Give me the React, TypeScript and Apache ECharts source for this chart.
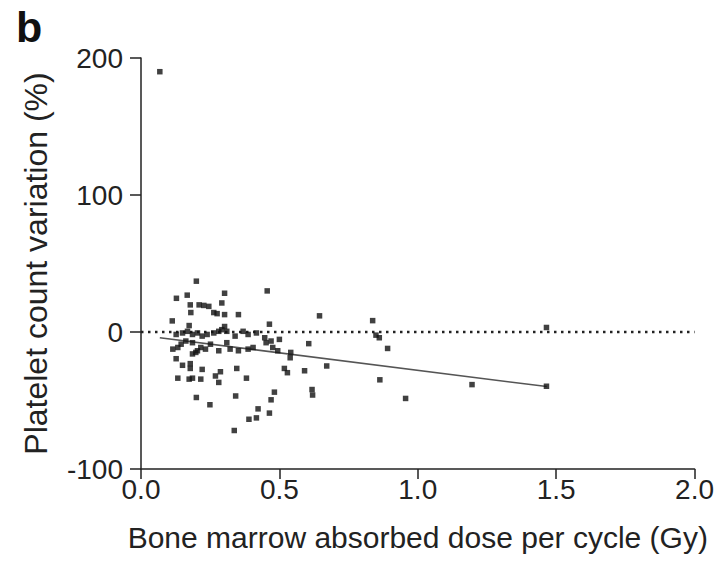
import React, { useEffect, useRef } from "react";
import * as echarts from "echarts";

const doseX: number[] = [
  0.068,
  0.200, 0.128, 0.167, 0.302, 0.456, 0.178, 0.210, 0.227, 0.245, 0.292,
  0.180, 0.263, 0.275, 0.302, 0.352, 0.113, 0.174, 0.302, 0.464,
  0.127, 0.150, 0.168, 0.186, 0.204, 0.221, 0.239, 0.263, 0.281, 0.292,
  0.310, 0.340, 0.369, 0.387, 0.417, 0.447, 0.470, 0.500,
  0.115, 0.133, 0.145, 0.162, 0.186, 0.204, 0.216, 0.233, 0.251, 0.281,
  0.310, 0.322, 0.352, 0.387, 0.405, 0.452, 0.476, 0.494, 0.186, 0.198,
  0.127, 0.150, 0.178, 0.178, 0.221, 0.518, 0.346, 0.287, 0.133, 0.174,
  0.186, 0.216, 0.269, 0.281, 0.381, 0.482, 0.470, 0.200, 0.342, 0.249,
  0.423, 0.417, 0.390, 0.464, 0.337,
  0.645, 0.837, 0.529, 0.541, 0.539, 0.606, 0.849, 0.861, 0.891, 0.671,
  0.591, 0.863, 0.618, 0.620, 0.956,
  1.465, 1.196, 1.465,
];

const plateletY: number[] = [
  190,
  37.1, 24.6, 26.9, 28.3, 30.0, 19.8, 19.8, 19.4, 18.7, 21.2,
  14.2, 14.2, 13.4, 12.7, 12.7, 8.1, 4.7, 4.0, 5.7,
  -1.8, -0.7, 0.5, -1.8, -0.7, -3.0, -1.8, -0.7, 0.5, 1.7,
  0.5, -3.0, 0.5, -1.8, -0.7, -4.2, -6.6, -5.4,
  -12.5, -11.3, -8.9, -6.6, -7.8, -13.7, -11.3, -12.5, -8.9, -13.7,
  -7.8, -12.5, -13.7, -12.5, -11.3, -7.8, -11.3, -13.7, -16.0, -14.9,
  -19.5, -24.3, -23.1, -26.6, -27.3, -26.6, -26.6, -29.0, -33.7, -34.4,
  -33.7, -34.4, -32.1, -36.8, -33.7, -43.9, -49.5, -47.8, -46.7, -53.1,
  -56.1, -62.7, -63.7, -59.2, -71.9,
  11.8, 8.3, -29.7, -14.9, -18.8, -8.5, -2.3, -4.2, -12.0, -24.8,
  -28.3, -34.9, -42.0, -46.0, -48.5,
  3.3, -38.4, -39.6,
];

const fitX: number[] = [0.068, 1.466];
const fitY: number[] = [-4.2, -39.8];

const refX: number[] = [0, 2.0];
const refY: number[] = [0, 0];

const xTicks = { min: 0, max: 2.0, interval: 0.5 };
const yTicks = { min: -100, max: 200, interval: 100 };

const FONT = "'Liberation Sans', Arial, Helvetica, sans-serif";

export default function App() {
  const ref = useRef<HTMLDivElement>(null);
  useEffect(() => {
    if (!ref.current) return;
    const chart = echarts.init(ref.current, undefined, { renderer: "svg" });
    const axisLine = { show: true, onZero: false, lineStyle: { color: "#222", width: 1.5 } };
    chart.setOption({
      animation: false,
      backgroundColor: "#ffffff",
      textStyle: { fontFamily: FONT },
      graphic: [
        {
          type: "text",
          left: 8,
          top: 5,
          style: { text: "b", font: `bold 43px ${FONT}`, fill: "#111" },
        },
      ],
      grid: { left: 133, right: 13, top: 58, bottom: 75, containLabel: false },
      xAxis: {
        type: "value",
        min: xTicks.min,
        max: xTicks.max,
        interval: xTicks.interval,
        name: "Bone marrow absorbed dose per cycle (Gy)",
        nameLocation: "middle",
        nameGap: 53,
        nameTextStyle: { fontSize: 30, color: "#222", fontFamily: FONT },
        axisLine,
        axisTick: { show: true, length: 10, inside: false, lineStyle: { color: "#222", width: 1.5 } },
        axisLabel: {
          fontSize: 28,
          color: "#222",
          margin: 6,
          fontFamily: FONT,
          formatter: (v: number) => v.toFixed(1),
        },
        splitLine: { show: false },
      },
      yAxis: {
        type: "value",
        min: yTicks.min,
        max: yTicks.max,
        interval: yTicks.interval,
        name: "Platelet count variation (%)",
        nameLocation: "middle",
        nameGap: 89,
        nameRotate: 90,
        nameTextStyle: { fontSize: 32, color: "#222", fontFamily: FONT },
        axisLine,
        axisTick: { show: true, length: 11, inside: false, lineStyle: { color: "#222", width: 1.5 } },
        axisLabel: { fontSize: 28, color: "#222", margin: 18, fontFamily: FONT },
        splitLine: { show: false },
      },
      series: [
        {
          type: "line",
          data: refX.map((x, i) => [x, refY[i]]),
          symbol: "none",
          lineStyle: { color: "#222", width: 2.5, type: [2.5, 4.5] },
          silent: true,
          z: 1,
        },
        {
          type: "line",
          data: fitX.map((x, i) => [x, fitY[i]]),
          symbol: "none",
          lineStyle: { color: "#555", width: 1.5 },
          silent: true,
          z: 2,
        },
        {
          type: "scatter",
          data: doseX.map((x, i) => [x, plateletY[i]]),
          symbol: "rect",
          symbolSize: 5.5,
          itemStyle: { color: "#111" },
          z: 3,
        },
      ],
    });
    return () => chart.dispose();
  }, []);
  return <div ref={ref} style={{ width: 709, height: 557, marginTop: -8 }} />;
}
